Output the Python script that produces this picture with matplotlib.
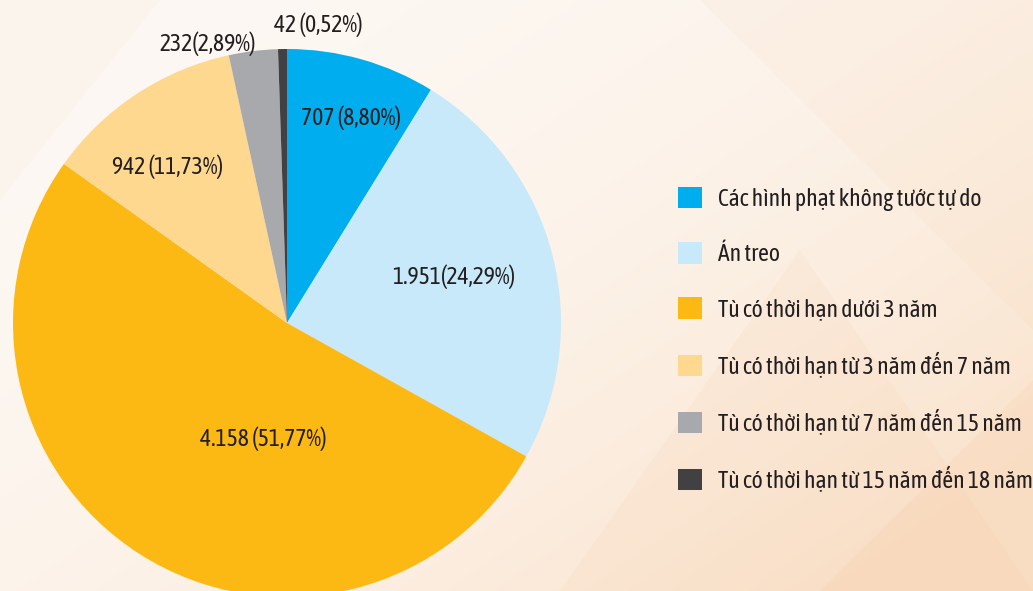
import matplotlib.pyplot as plt
import numpy as np
from matplotlib.patches import Polygon

# Du lieu
nhom = [
    'Các hình phạt không tước tự do',
    'Án treo',
    'Tù có thời hạn dưới 3 năm',
    'Tù có thời hạn từ 3 năm đến 7 năm',
    'Tù có thời hạn từ 7 năm đến 15 năm',
    'Tù có thời hạn từ 15 năm đến 18 năm',
]
so_luong = [707, 1951, 4158, 942, 232, 42]
nhan = ['707 (8,80%)', '1.951(24,29%)', '4.158 (51,77%)', '942 (11,73%)', '232(2,89%)', '42 (0,52%)']
mau = ['#00AEEF', '#C7E9F9', '#FDB913', '#FED88F', '#A7A9AC', '#414042']

# vi tri nhan (pixel, goc tren trai)
vi_tri_nhan = [(351, 118), (454, 277), (263, 439), (168, 167), (208, 44), (318, 25)]

W, H = 1033, 591
plt.rcParams['font.family'] = ['Asap Condensed', 'Barlow Condensed', 'DejaVu Sans']

fig = plt.figure(figsize=(W / 100, H / 100), dpi=100)
ax = fig.add_axes([0, 0, 1, 1])

# Nen gradient nhat
yy, xx = np.mgrid[0:1:200j, 0:1:350j]
t = np.clip(0.6 * xx + 0.5 * yy, 0, 1) ** 2.2
c0 = np.array([253, 248, 243]) / 255
c1 = np.array([250, 226, 203]) / 255
img = c0 + (c1 - c0) * t[..., None]
ax.imshow(img, extent=[0, W, 0, H], origin='upper', zorder=0, aspect='auto')

# vai mang hinh hoc mo
for pts, a in [
    ([(560, 591), (800, 250), (1033, 591)], 0.12),
    ([(700, 0), (1033, 0), (1033, 330)], 0.08),
    ([(0, 0), (160, 0), (0, 200)], 0.06),
    ([(820, 591), (1033, 380), (1033, 591)], 0.2),
]:
    ax.add_patch(Polygon([(x, H - y) for x, y in pts], closed=True,
                         facecolor='#F7C9A0', edgecolor='none', alpha=a, zorder=1))

wedges, _ = ax.pie(so_luong, colors=mau, startangle=90, counterclock=False,
                   center=(287, H - 323), radius=274,
                   wedgeprops=dict(linewidth=0))
for w in wedges:
    w.set_zorder(2)

for (x, y), s in zip(vi_tri_nhan, nhan):
    ax.text(x, H - y, s, ha='center', va='center', fontsize=17,
            color='#231F20', zorder=3)

ax.set_xlim(0, W)
ax.set_ylim(0, H)
ax.set_aspect('equal')
ax.axis('off')

leg = ax.legend(wedges, nhom, loc='upper left', bbox_to_anchor=(678 / W, 1 - 187 / H),
                frameon=False, fontsize=17, handlelength=1.02, handleheight=1.02,
                handletextpad=0.68, labelspacing=1.33, borderaxespad=0,
                borderpad=0)
for txt in leg.get_texts():
    txt.set_color('#231F20')

fig.savefig('out.png', dpi=100)
